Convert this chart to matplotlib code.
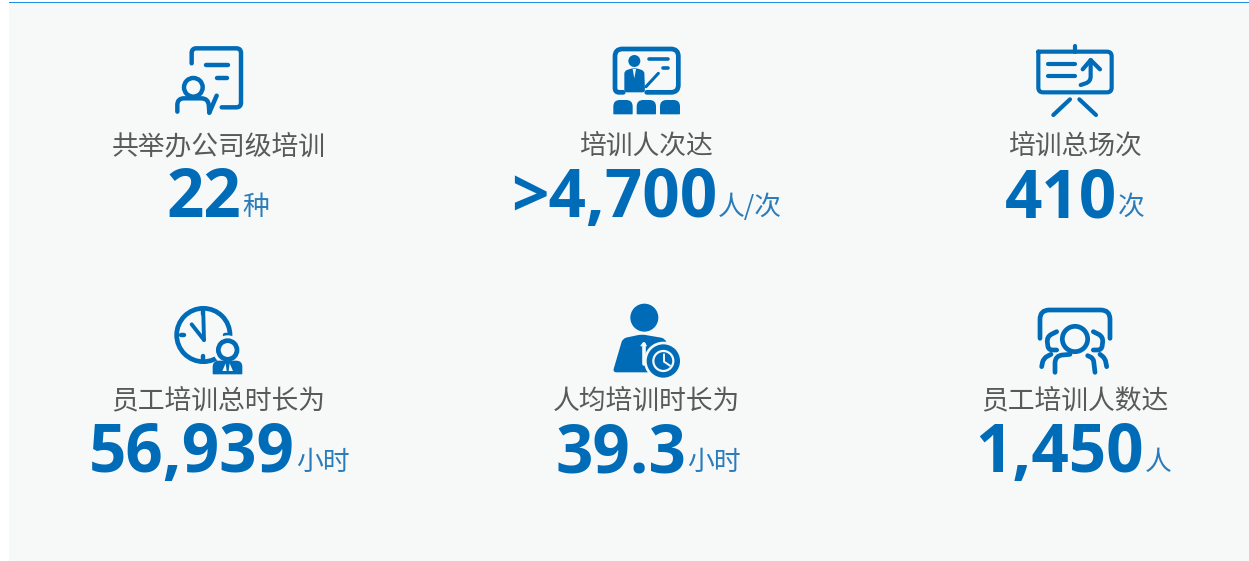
import matplotlib
matplotlib.use("Agg")
import matplotlib.pyplot as plt
from matplotlib.patches import Circle, PathPatch, Rectangle
from matplotlib.path import Path

labels = ["共举办公司级培训", "培训人次达", "培训总场次", "员工培训总时长为", "人均培训时长为", "员工培训人数达"]
numbers = ["22", ">4,700", "410", "56,939", "39.3", "1,450"]
units = ["种", "人/次", "次", "小时", "小时", "人"]

label_x = [218.5, 646, 1074.5, 218.5, 646, 1075]
label_y = [154, 154, 154, 408.5, 408.5, 408.5]
joint_x = [241, 717, 1117, 295, 686, 1144]
number_y = [217, 217, 217, 472, 472, 472]
unit_y = [215, 215, 215, 470, 470, 470]

BLUE = "#006cb8"
UNIT = "#2b7cba"
GREY = "#595959"
BG = "#f7f9f9"
CJK = ["Noto Sans CJK SC", "DejaVu Sans"]

fig = plt.figure(figsize=(12.49, 5.61), dpi=100)
ax = fig.add_axes([0, 0, 1, 1])
ax.set_xlim(0, 1249)
ax.set_ylim(561, 0)
ax.axis("off")

ax.add_patch(Rectangle((9, 2), 1240, 559, fc=BG, ec="none"))
ax.add_patch(Rectangle((9, 2), 1240, 1, fc="#1e8ee6", ec="none"))


def pt(o, p):
    return (o[0] + p[0] / 3, o[1] + p[1] / 3)


def corner(a, b, c, r):
    d1 = max(((b[0] - a[0]) ** 2 + (b[1] - a[1]) ** 2) ** 0.5, 1e-6)
    d2 = max(((c[0] - b[0]) ** 2 + (c[1] - b[1]) ** 2) ** 0.5, 1e-6)
    k = min(r, d1 / 2, d2 / 2)
    p1 = (b[0] + (a[0] - b[0]) * k / d1, b[1] + (a[1] - b[1]) * k / d1)
    p2 = (b[0] + (c[0] - b[0]) * k / d2, b[1] + (c[1] - b[1]) * k / d2)
    return p1, p2


def stroke(o, pts, r=0, lw=3.2, col=BLUE):
    # polyline with the inner corners rounded, r in crop units
    verts = [pt(o, pts[0])]
    codes = [Path.MOVETO]
    for i in range(1, len(pts) - 1):
        p1, p2 = corner(pts[i - 1], pts[i], pts[i + 1], r)
        verts += [pt(o, p1), pt(o, pts[i]), pt(o, p2)]
        codes += [Path.LINETO, Path.CURVE3, Path.CURVE3]
    verts.append(pt(o, pts[-1]))
    codes.append(Path.LINETO)
    ax.add_patch(PathPatch(Path(verts, codes), fc="none", ec=col, lw=lw, capstyle="round", joinstyle="round"))


def fill(o, pts, r=0, col=BLUE):
    seq = pts + [pts[0], pts[1]]
    verts = []
    codes = []
    for i in range(1, len(seq) - 1):
        p1, p2 = corner(seq[i - 1], seq[i], seq[i + 1], r)
        verts += [pt(o, p1), pt(o, seq[i]), pt(o, p2)]
        codes += [Path.MOVETO if i == 1 else Path.LINETO, Path.CURVE3, Path.CURVE3]
    verts.append(verts[0])
    codes.append(Path.CLOSEPOLY)
    ax.add_patch(PathPatch(Path(verts, codes), fc=col, ec="none"))


def dome(o, x0, x1, y0, y1, r, col=BLUE):
    # flat bottom, big radius on top
    fill(o, [(x0, y1 - 4), (x0, y0), (x1, y0), (x1, y1 - 4), (x1, y1), (x0, y1)], r=r, col=col)


def ring(o, c, r, lw=3.2, fc="none", ec=BLUE):
    ax.add_patch(Circle(pt(o, c), r / 3, fc=fc, ec=ec, lw=lw))


# 共举办公司级培训
o = (90, 30)
stroke(o, [(305, 100), (305, 55), (453, 55), (453, 232), (395, 232)], r=14)
stroke(o, [(347, 105), (415, 105)])
stroke(o, [(380, 145), (412, 145)])
ring(o, (310, 172), 28)
stroke(o, [(262, 245), (262, 205), (355, 205), (358, 248)], r=40)
stroke(o, [(358, 248), (380, 197)])

# 培训人次达
o = (590, 35)
stroke(o, [(170, 172), (265, 172), (265, 42), (75, 42), (75, 172), (100, 172)], r=22, lw=3.4)
ring(o, (133, 78), 18, lw=0, fc=BLUE)
fill(o, [(103, 172), (103, 108), (125, 100), (142, 100), (163, 108), (165, 172)], r=8)
fill(o, [(128, 102), (138, 102), (133, 130)], col=BG)
stroke(o, [(168, 155), (205, 115)], lw=2.2)
stroke(o, [(178, 72), (235, 72)], lw=2.6)
stroke(o, [(218, 99), (235, 99)], lw=2.6)
dome(o, 70, 128, 195, 238, 24)
dome(o, 140, 198, 195, 238, 24)
dome(o, 210, 270, 195, 238, 24)

# 培训总场次
o = (1020, 35)
stroke(o, [(55, 50), (275, 50), (275, 172), (55, 172), (55, 50)], r=14, lw=3)
stroke(o, [(165, 32), (165, 50)], lw=3)
stroke(o, [(85, 88), (165, 88)], lw=3)
stroke(o, [(85, 123), (165, 123)], lw=3)
stroke(o, [(182, 150), (212, 140), (212, 75)], r=30, lw=3)
stroke(o, [(188, 103), (212, 75), (240, 103)], lw=3)
stroke(o, [(100, 240), (150, 193)], lw=3)
stroke(o, [(178, 193), (228, 240)], lw=3)

# 员工培训总时长为
o = (160, 295)
ring(o, (130, 120), 80, lw=3.4)
stroke(o, [(130, 42), (130, 56)])
stroke(o, [(62, 120), (72, 120)])
stroke(o, [(130, 183), (130, 197)])
stroke(o, [(195, 120), (208, 120)])
stroke(o, [(130, 60), (132, 135)], lw=2.8)
stroke(o, [(95, 88), (132, 135)], lw=2.8)
ring(o, (203, 165), 44, lw=0, fc=BG)
ring(o, (203, 165), 28, lw=3.4, fc=BG)
dome(o, 158, 247, 197, 238, 34)
fill(o, [(187, 228), (197, 205), (200, 228)], col=BG)
fill(o, [(206, 228), (209, 205), (219, 228)], col=BG)

# 人均培训时长为
o = (600, 295)
ring(o, (133, 68), 42, lw=0, fc=BLUE)
fill(o, [(38, 232), (68, 130), (125, 118), (195, 130), (232, 232)], r=12)
stroke(o, [(131, 146), (131, 206)], lw=2.6, col=BG)
stroke(o, [(124, 152), (131, 144), (138, 152)], lw=1.2, col=BG)
ring(o, (190, 198), 58, lw=0, fc=BG)
ring(o, (190, 198), 50, lw=0, fc=BLUE)
ring(o, (190, 198), 30, lw=1.6, fc=BLUE, ec=BG)
stroke(o, [(192, 178), (192, 200), (210, 212)], lw=1.4, col=BG)

# 员工培训人数达
o = (1025, 295)
stroke(o, [(45, 130), (45, 45), (255, 45), (255, 130)], r=28, lw=3.4)
ring(o, (150, 132), 38, lw=3.4)
stroke(o, [(90, 232), (90, 182), (135, 178)], r=30, lw=3.4)
stroke(o, [(210, 232), (205, 190), (188, 182)], r=20, lw=3.4)
stroke(o, [(95, 110), (65, 125), (70, 165), (95, 165)], r=20, lw=3.4)
stroke(o, [(78, 178), (55, 190), (50, 215)], r=15, lw=3.4)
stroke(o, [(205, 110), (235, 125), (230, 165), (205, 165)], r=20, lw=3.4)
stroke(o, [(225, 178), (240, 190), (245, 215)], r=15, lw=3.4)

for i in range(6):
    ax.text(label_x[i], label_y[i], labels[i], family=CJK, fontsize=19.3, color=GREY, ha="center", va="baseline")
    ax.text(joint_x[i], number_y[i], numbers[i], family="Open Sans", fontweight="bold", fontsize=47.2,
            color=BLUE, ha="right", va="baseline")
    ax.text(joint_x[i] + 1, unit_y[i], units[i], family=CJK, fontsize=19.3, color=UNIT, ha="left", va="baseline")

fig.savefig("out.png", dpi=100, facecolor="white")
